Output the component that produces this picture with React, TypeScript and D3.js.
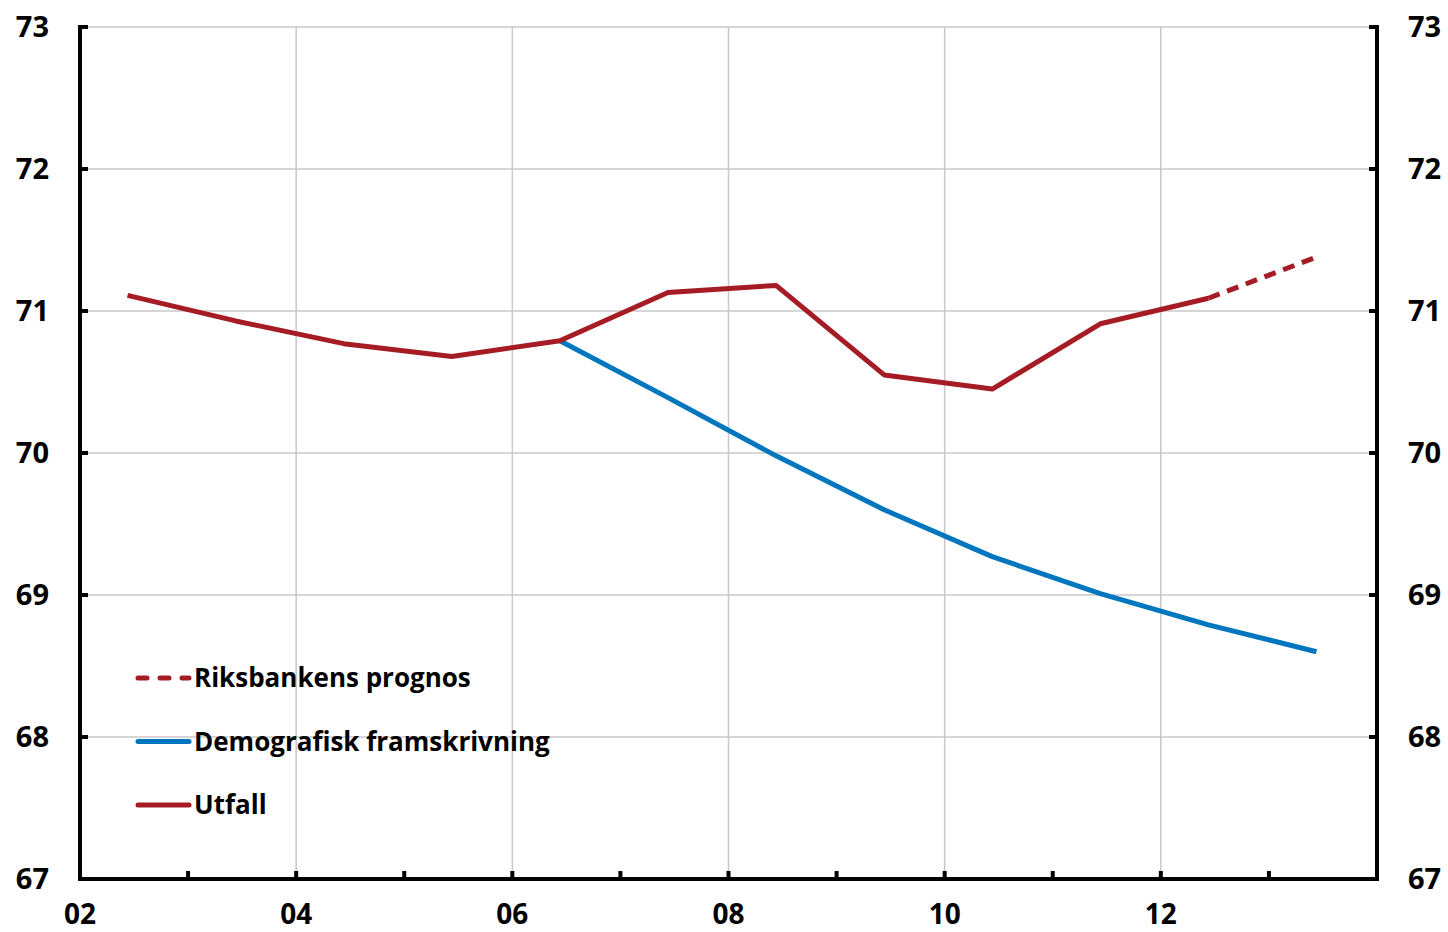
import React from "react";
import * as d3 from "d3";

const years = [2002, 2003, 2004, 2005, 2006, 2007, 2008, 2009, 2010, 2011, 2012];
const utfall = [71.11, 70.93, 70.77, 70.68, 70.79, 71.13, 71.18, 70.55, 70.45, 70.91, 71.09];
const prognosYears = [2012, 2013];
const prognos = [71.09, 71.38];
const demoYears = [2006, 2007, 2008, 2009, 2010, 2011, 2012, 2013];
const demo = [70.79, 70.39, 69.98, 69.6, 69.27, 69.01, 68.79, 68.6];
const yTicks = [67, 68, 69, 70, 71, 72, 73];
const xLabelYears = [2002, 2004, 2006, 2008, 2010, 2012];
const legendItems = [
  { label: "Riksbankens prognos", color: "#a51c24", dash: "9 13" },
  { label: "Demografisk framskrivning", color: "#0076be", dash: "" },
  { label: "Utfall", color: "#a51c24", dash: "" },
];

const RED = "#a51c24";
const BLUE = "#0076be";
const POINT_IN_YEAR = 0.44;

export default function App() {
  const W = 1448, H = 932;
  const left = 80, right = 1377, top = 27, bottom = 879;
  const x = d3.scaleLinear().domain([2002, 2014]).range([left, right]);
  const y = d3.scaleLinear().domain([67, 73]).range([bottom, top]);
  const line = d3.line<[number, number]>().x((d) => x(d[0] + POINT_IN_YEAR)).y((d) => y(d[1]));
  const font = "'Open Sans', 'Noto Sans', sans-serif";
  const allYears = d3.range(2002, 2015);
  const pts = (xs: number[], vs: number[]) => xs.map((d, i) => [d, vs[i]] as [number, number]);

  return (
    <svg width={W} height={H} style={{ position: "absolute", left: 0, top: 0, background: "#fff" }} fontFamily={font}>
      {yTicks.slice(1).map((t) => (
        <line key={"gy" + t} x1={left} x2={right} y1={y(t)} y2={y(t)} stroke="#c8c8c8" strokeWidth={1.5} />
      ))}
      {xLabelYears.slice(1).map((t) => (
        <line key={"gx" + t} x1={x(t)} x2={x(t)} y1={top} y2={bottom} stroke="#c8c8c8" strokeWidth={1.5} />
      ))}
      <path d={line(pts(demoYears, demo)) || ""} fill="none" stroke={BLUE} strokeWidth={5} strokeLinejoin="round" />
      <path d={line(pts(prognosYears, prognos)) || ""} fill="none" stroke={RED} strokeWidth={5} strokeDasharray="12 8" />
      <path d={line(pts(years, utfall)) || ""} fill="none" stroke={RED} strokeWidth={5} strokeLinejoin="round" />
      <line x1={left} x2={left} y1={top - 2} y2={bottom + 2} stroke="#000" strokeWidth={4} />
      <line x1={right} x2={right} y1={top - 2} y2={bottom + 2} stroke="#000" strokeWidth={4} />
      <line x1={left - 2} x2={right + 2} y1={bottom} y2={bottom} stroke="#000" strokeWidth={4} />
      {yTicks.map((t) => (
        <g key={"yt" + t}>
          <line x1={left} x2={left + 8} y1={y(t)} y2={y(t)} stroke="#000" strokeWidth={4} />
          <line x1={right - 8} x2={right} y1={y(t)} y2={y(t)} stroke="#000" strokeWidth={4} />
          <text x={49} y={y(t)} dy="0.35em" textAnchor="end" fontSize={29} fontWeight="bold">{t}</text>
          <text x={1408} y={y(t)} dy="0.35em" textAnchor="start" fontSize={29} fontWeight="bold">{t}</text>
        </g>
      ))}
      {allYears.map((t) => (
        <line key={"xt" + t} x1={x(t)} x2={x(t)} y1={bottom} y2={bottom - 8} stroke="#000" strokeWidth={4} />
      ))}
      {xLabelYears.map((t) => (
        <text key={"xl" + t} x={x(t)} y={924} textAnchor="middle" fontSize={28} fontWeight="bold">
          {String(t % 100).padStart(2, "0")}
        </text>
      ))}
      {legendItems.map((it, i) => {
        const ly = 678 + i * 63.5;
        return (
          <g key={it.label}>
            <line x1={138} x2={189} y1={ly} y2={ly} stroke={it.color} strokeWidth={5} strokeLinecap="round" strokeDasharray={it.dash || undefined} />
            <text x={194} y={ly} dy="0.35em" fontSize={26} fontWeight="bold">{it.label}</text>
          </g>
        );
      })}
    </svg>
  );
}
